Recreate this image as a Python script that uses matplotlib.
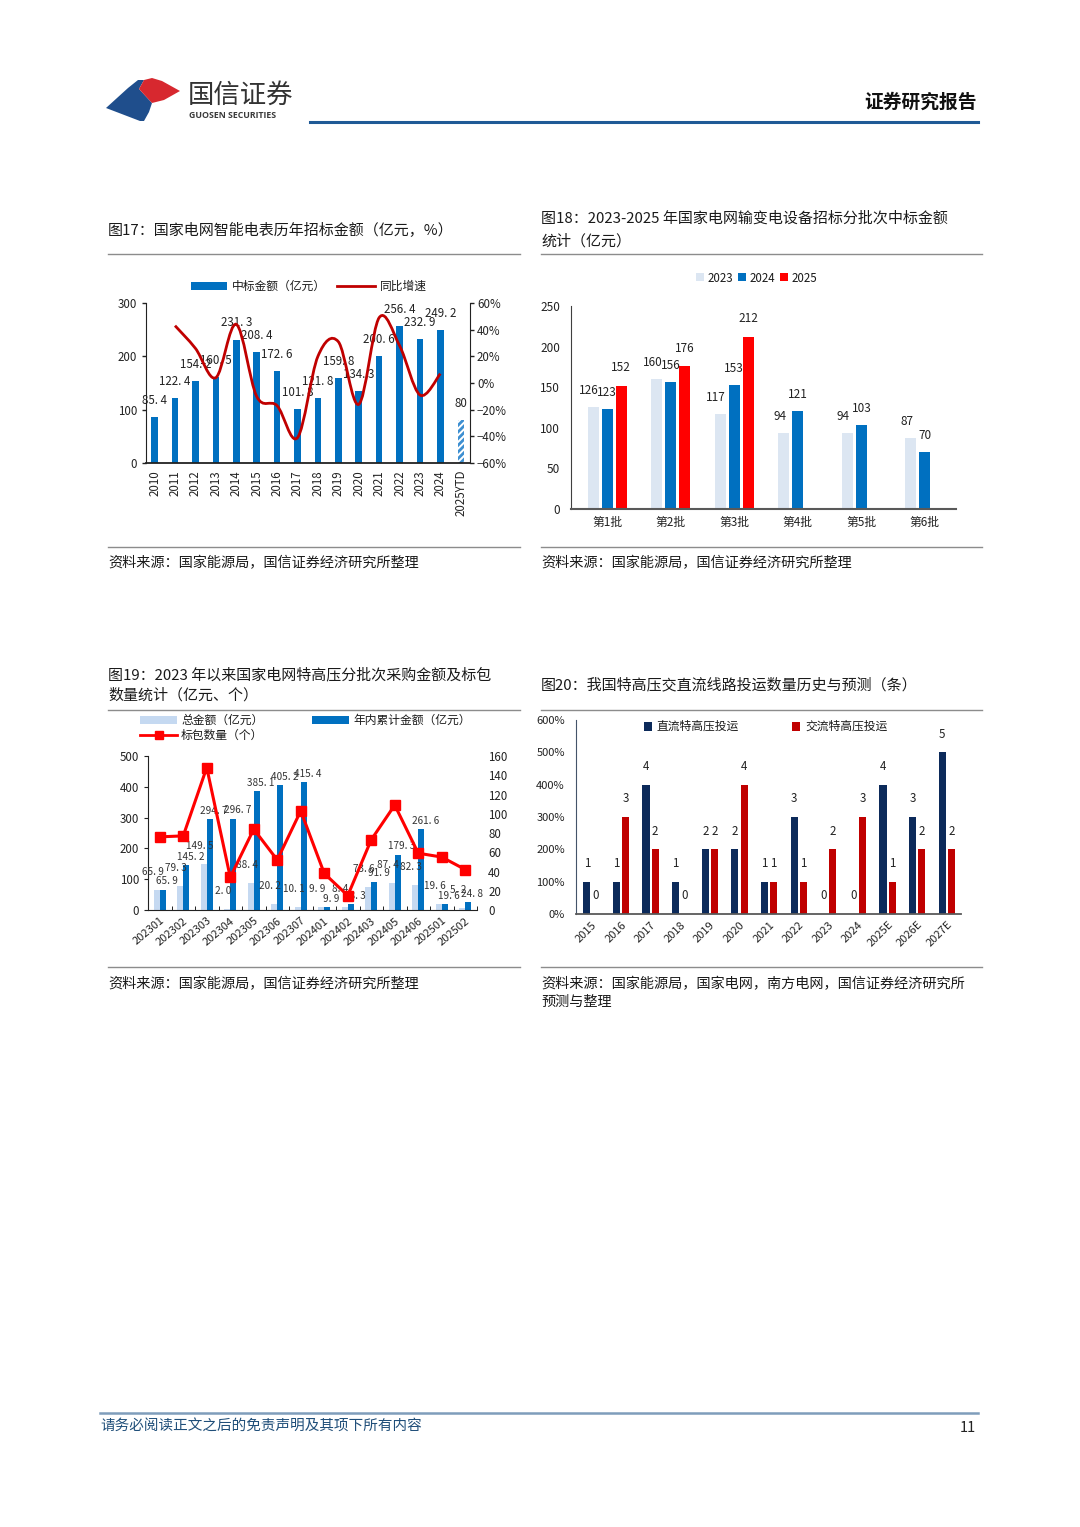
import matplotlib
matplotlib.use("Agg")
import matplotlib.pyplot as plt
from matplotlib.patches import Rectangle, Polygon, PathPatch
from matplotlib.lines import Line2D
from matplotlib.path import Path
import numpy as np

plt.rcParams['font.family'] = ['Noto Sans CJK SC', 'DejaVu Sans']
plt.rcParams['axes.unicode_minus'] = True
plt.rcParams['hatch.linewidth'] = 1.4

W, H = 1080, 1527

# ---------------- data ----------------
# Fig 17
years17 = ['2010', '2011', '2012', '2013', '2014', '2015', '2016', '2017', '2018',
           '2019', '2020', '2021', '2022', '2023', '2024', '2025YTD']
amount17 = [85.4, 122.4, 154.2, 160.5, 231.3, 208.4, 172.6, 101.8, 121.8,
            159.8, 134.3, 200.6, 256.4, 232.9, 249.2, 80]
growth17 = [0.43, 0.26, 0.04, 0.44, -0.10, -0.17, -0.41, 0.20, 0.31,
            -0.16, 0.49, 0.28, -0.09, 0.07]  # 2011-2024

# Fig 18
batches18 = ['第1批', '第2批', '第3批', '第4批', '第5批', '第6批']
y2023 = [126, 160, 117, 94, 94, 87]
y2024 = [123, 156, 153, 121, 103, 70]
y2025 = [152, 176, 212]

# Fig 19
periods19 = ['202301', '202302', '202303', '202304', '202305', '202306', '202307',
             '202401', '202402', '202403', '202405', '202406', '202501', '202502']
total19 = [65.9, 79.3, 149.5, 2.0, 88.4, 20.2, 10.1, 9.9, 8.4, 73.6, 87.4, 82.3, 19.6, 5.2]
cum19 = [65.9, 145.2, 294.7, 296.7, 385.1, 405.2, 415.4, 9.9, 18.3, 91.9, 179.3, 261.6, 19.6, 24.8]
packs19 = [76, 77, 148, 34, 84, 52, 103, 38, 15, 73, 109, 59, 55, 42]

# Fig 20
years20 = ['2015', '2016', '2017', '2018', '2019', '2020', '2021', '2022', '2023',
           '2024', '2025E', '2026E', '2027E']
dc20 = [1, 1, 4, 1, 2, 2, 1, 3, 0, 0, 4, 3, 5]
ac20 = [0, 3, 2, 0, 2, 4, 1, 1, 2, 3, 1, 2, 2]

# ---------------- helpers ----------------
fig = plt.figure(figsize=(W / 100, H / 100), dpi=100)


def P(x, y):
    return (x / W, 1 - y / H)


def add_ax(l, t, r, b):
    return fig.add_axes([l / W, 1 - b / H, (r - l) / W, (b - t) / H])


def ftext(x, y, s, **kw):
    fig.text(x / W, 1 - y / H, s, **kw)


def hline(x1, x2, y, color='#8c8c8c', lw=1.0):
    fig.add_artist(Line2D([x1 / W, x2 / W], [1 - y / H, 1 - y / H],
                          color=color, lw=lw, transform=fig.transFigure))


def frect(x, y, w, h, color, **kw):
    fig.add_artist(Rectangle((x / W, 1 - (y + h) / H), w / W, h / H,
                             facecolor=color, edgecolor='none',
                             transform=fig.transFigure, **kw))


TXT = '#1a1a1a'

# ---------------- header ----------------
blue_poly = [(106, 108), (128, 88), (138, 80), (144, 80), (139, 89), (152, 103),
             (149, 112), (144, 121), (140, 121)]
red_poly = [(144, 80), (152, 78), (162, 81), (180, 91), (164, 100), (152, 103), (139, 89)]
fig.add_artist(Polygon([P(*p) for p in blue_poly], closed=True, facecolor='#1f4e8c',
                       edgecolor='none', transform=fig.transFigure))
fig.add_artist(Polygon([P(*p) for p in red_poly], closed=True, facecolor='#d7282f',
                       edgecolor='none', transform=fig.transFigure))
ftext(188, 95, '国信证券', fontsize=19, color='#333333', va='center', ha='left',
      fontweight='medium')
ftext(189, 115, 'GUOSEN SECURITIES', fontsize=6.3, color='#3a3a3a', va='center',
      ha='left', fontweight='bold', family=['Open Sans', 'DejaVu Sans'])
ftext(977, 102, '证券研究报告', fontsize=13.5, color='#111111', va='center', ha='right',
      fontweight='bold')
hline(310, 978, 122, color='#1f5a96', lw=2.2)

# ---------------- footer ----------------
hline(100, 978, 1413, color='#7f9dbb', lw=1.8)
ftext(100, 1426, '请务必阅读正文之后的免责声明及其项下所有内容', fontsize=10.5,
      color='#1f4e79', va='center', ha='left', style='italic')
ftext(976, 1428, '11', fontsize=10.5, color='#222222', va='center', ha='right')

# ---------------- titles / separators ----------------
TS = 10.8
ftext(108, 230, '图17：国家电网智能电表历年招标金额（亿元，%）', fontsize=TS, color=TXT, va='center')
ftext(541, 219, '图18：2023-2025 年国家电网输变电设备招标分批次中标金额', fontsize=TS, color=TXT, va='center')
ftext(541, 241, '统计（亿元）', fontsize=TS, color=TXT, va='center')
ftext(108, 675, '图19：2023 年以来国家电网特高压分批次采购金额及标包', fontsize=TS, color=TXT, va='center')
ftext(108, 695, '数量统计（亿元、个）', fontsize=TS, color=TXT, va='center')
ftext(541, 685, '图20：我国特高压交直流线路投运数量历史与预测（条）', fontsize=TS, color=TXT, va='center')

for (x1, x2) in [(108, 520), (541, 982)]:
    hline(x1, x2, 254)
    hline(x1, x2, 547)
    hline(x1, x2, 710)
    hline(x1, x2, 967)

SS = 10.2
ftext(108, 563, '资料来源：国家能源局，国信证券经济研究所整理', fontsize=SS, color=TXT, va='center')
ftext(541, 563, '资料来源：国家能源局，国信证券经济研究所整理', fontsize=SS, color=TXT, va='center')
ftext(108, 984, '资料来源：国家能源局，国信证券经济研究所整理', fontsize=SS, color=TXT, va='center')
ftext(541, 984, '资料来源：国家能源局，国家电网，南方电网，国信证券经济研究所', fontsize=SS, color=TXT, va='center')
ftext(541, 1002, '预测与整理', fontsize=SS, color=TXT, va='center')


def spaced(v):
    return f'{v:.1f}'.replace('.', '. ')


# ---------------- Fig 17 ----------------
BLUE = '#0070c0'
ax = add_ax(146, 303, 470, 463)
x17 = np.arange(len(years17))
ax.bar(x17[:-1], amount17[:-1], width=0.32, color=BLUE, zorder=2)
ax.bar(x17[-1:], amount17[-1:], width=0.32, facecolor='#3d8fd1', edgecolor='white',
       hatch='/////', linewidth=0, zorder=2)
for i, v in enumerate(amount17):
    s = '80' if i == len(amount17) - 1 else spaced(v)
    ax.annotate(s, (x17[i], v), xytext=(0, 12), textcoords='offset points',
                ha='center', va='center', fontsize=8.3, color='#222222', zorder=5)
ax.set_xlim(-0.42, 15.45)
ax.set_ylim(0, 300)
ax.set_yticks([0, 100, 200, 300])
ax.set_xticks(x17)
ax.set_xticklabels(years17, rotation=90, fontsize=8.3, color='#222222')
ax.tick_params(axis='y', labelsize=8.3, colors='#222222', length=3, width=1)
ax.tick_params(axis='x', length=0, pad=5)
for s in ['top', 'right']:
    ax.spines[s].set_visible(False)
ax.spines['left'].set_color('#222222')
ax.spines['bottom'].set_color('#222222')
ax.spines['bottom'].set_linewidth(1.3)

ax2 = ax.twinx()
ax2.set_ylim(-0.6, 0.6)
ax2.set_yticks(np.linspace(-0.6, 0.6, 7))
ax2.set_yticklabels([f'{int(round(t * 100))}%'.replace('-', '−') for t in np.linspace(-0.6, 0.6, 7)])
ax2.tick_params(axis='y', labelsize=8.3, colors='#222222', length=3, width=1, pad=2)
for s in ['top', 'left', 'bottom']:
    ax2.spines[s].set_visible(False)
ax2.spines['right'].set_color('#222222')

# smooth curve (Catmull-Rom -> cubic Bezier) through growth points
gx = x17[1:15].astype(float)
gy = np.array(growth17, dtype=float)
pts = np.column_stack([gx, gy])
verts = [tuple(pts[0])]
codes = [Path.MOVETO]
n = len(pts)
for i in range(n - 1):
    p0 = pts[i - 1] if i > 0 else pts[i]
    p1 = pts[i]
    p2 = pts[i + 1]
    p3 = pts[i + 2] if i + 2 < n else pts[i + 1]
    c1 = p1 + (p2 - p0) / 6.0
    c2 = p2 - (p3 - p1) / 6.0
    verts += [tuple(c1), tuple(c2), tuple(p2)]
    codes += [Path.CURVE4] * 3
ax2.add_patch(PathPatch(Path(verts, codes), facecolor='none', edgecolor='#c00000',
                        lw=2.0, zorder=4))

# legend 17
frect(191, 282, 36, 8, BLUE)
ftext(232, 286, '中标金额（亿元）', fontsize=8.5, color=TXT, va='center')
fig.add_artist(Line2D([337 / W, 375 / W], [1 - 286 / H] * 2, color='#c00000', lw=2,
                      transform=fig.transFigure))
ftext(380, 286, '同比增速', fontsize=8.5, color=TXT, va='center')

# ---------------- Fig 18 ----------------
C23, C24, C25 = '#dce6f2', '#0070c0', '#ff0000'
ax = add_ax(571, 306, 956, 509)
x18 = np.arange(len(batches18))
step, bw = 0.22, 0.175
ax.bar(x18 - step, y2023, width=bw, color=C23, zorder=2)
ax.bar(x18, y2024, width=bw, color=C24, zorder=2)
ax.bar(x18[:len(y2025)] + step, y2025, width=bw, color=C25, zorder=2)
for i in range(len(batches18)):
    ax.annotate(str(y2023[i]), (x18[i] - step, y2023[i]), xytext=(-3, 12),
                textcoords='offset points', ha='center', va='center', fontsize=8.5, color='#222222')
    ax.annotate(str(y2024[i]), (x18[i], y2024[i]), xytext=(0, 12),
                textcoords='offset points', ha='center', va='center', fontsize=8.5, color='#222222')
for i, v in enumerate(y2025):
    ax.annotate(str(v), (x18[i] + step, v), xytext=(0, 13),
                textcoords='offset points', ha='center', va='center', fontsize=8.5, color='#222222')
ax.set_xlim(-0.57, 5.49)
ax.set_ylim(0, 250)
ax.set_yticks(range(0, 251, 50))
ax.set_xticks(x18)
ax.set_xticklabels(batches18, fontsize=8.5, color='#222222')
ax.tick_params(axis='y', labelsize=8.5, colors='#222222', length=0, pad=8)
ax.tick_params(axis='x', length=0, pad=5)
for s in ['top', 'right']:
    ax.spines[s].set_visible(False)
ax.spines['left'].set_color('#404040')
ax.spines['bottom'].set_color('#595959')
ax.spines['bottom'].set_linewidth(1.5)

# legend 18
frect(696, 273, 8, 8, C23)
ftext(708, 278, '2023', fontsize=8.3, color=TXT, va='center')
frect(738, 273, 8, 8, C24)
ftext(750, 278, '2024', fontsize=8.3, color=TXT, va='center')
frect(780, 273, 8, 8, C25)
ftext(792, 278, '2025', fontsize=8.3, color=TXT, va='center')

# ---------------- Fig 19 ----------------
LB, DB, RED = '#c5d9f1', '#0070c0', '#ff0000'
ax = add_ax(148, 756, 477, 910)
x19 = np.arange(len(periods19))
off19, bw19 = 0.13, 0.26
ax.bar(x19 - off19, total19, width=bw19, color=LB, zorder=2)
ax.bar(x19 + off19, cum19, width=bw19, color=DB, zorder=2)
for i in range(len(periods19)):
    ax.annotate(spaced(total19[i]), (x19[i] - off19, total19[i]), xytext=(-3, 13),
                textcoords='offset points', ha='center', va='center', fontsize=7.2,
                color='#333333', zorder=6)
    ax.annotate(spaced(cum19[i]), (x19[i] + off19, cum19[i]), xytext=(3, 6),
                textcoords='offset points', ha='center', va='center', fontsize=7.2,
                color='#333333', zorder=6)
ax.set_xlim(-0.4, 13.5)
ax.set_ylim(0, 500)
ax.set_yticks(range(0, 501, 100))
ax.set_xticks(x19)
ax.set_xticklabels(periods19, rotation=40, ha='right', rotation_mode='anchor',
                   fontsize=8, color='#222222')
ax.set_xticks(np.arange(-0.5, 13.6, 1), minor=True)
ax.tick_params(axis='x', which='major', length=0, pad=4)
ax.tick_params(axis='x', which='minor', length=3, direction='in')
ax.tick_params(axis='y', labelsize=8.3, colors='#222222', length=3)
for s in ['top', 'right']:
    ax.spines[s].set_visible(False)
ax.spines['left'].set_color('#222222')
ax.spines['bottom'].set_color('#222222')

ax2 = ax.twinx()
ax2.plot(x19, packs19, color=RED, lw=2.2, marker='s', markersize=7, zorder=5)
ax2.set_ylim(0, 160)
ax2.set_yticks(range(0, 161, 20))
ax2.tick_params(axis='y', labelsize=8.3, colors='#222222', length=0, pad=8)
for s in ['top', 'left', 'bottom', 'right']:
    ax2.spines[s].set_visible(False)
ax2.set_zorder(ax.get_zorder() + 1)
ax2.patch.set_visible(False)

# legend 19
frect(140, 716, 37, 8, LB)
ftext(181, 720, '总金额（亿元）', fontsize=8.5, color=TXT, va='center')
frect(312, 716, 37, 8, DB)
ftext(353, 720, '年内累计金额（亿元）', fontsize=8.5, color=TXT, va='center')
fig.add_artist(Line2D([140 / W, 158.5 / W, 177 / W], [1 - 735 / H] * 3, color=RED, lw=2,
                      marker='s', markersize=6, markevery=[1], transform=fig.transFigure))
ftext(181, 735, '标包数量（个）', fontsize=8.5, color=TXT, va='center')

# ---------------- Fig 20 ----------------
NAVY, DRED = '#0c2a5a', '#c00000'
ax = add_ax(576, 720, 961, 914)
x20 = np.arange(len(years20))
off20, bw20 = 0.155, 0.24
ax.bar(x20 - off20, dc20, width=bw20, color=NAVY, zorder=2)
ax.bar(x20 + off20, ac20, width=bw20, color=DRED, zorder=2)
for i in range(len(years20)):
    ax.annotate(str(dc20[i]), (x20[i] - off20, dc20[i]), xytext=(0, 13),
                textcoords='offset points', ha='center', va='center', fontsize=8.3, color='#222222')
    ax.annotate(str(ac20[i]), (x20[i] + off20, ac20[i]), xytext=(0, 13),
                textcoords='offset points', ha='center', va='center', fontsize=8.3, color='#222222')
ax.set_xlim(-0.52, 12.48)
ax.set_ylim(0, 6)
ax.set_yticks(range(0, 7))
ax.set_yticklabels([f'{t * 100}%' for t in range(0, 7)])
ax.set_xticks(x20)
ax.set_xticklabels(years20, rotation=45, ha='right', rotation_mode='anchor',
                   fontsize=8, color='#222222')
ax.tick_params(axis='x', length=0, pad=4)
ax.tick_params(axis='y', labelsize=8, colors='#222222', length=0, pad=8)
for s in ['top', 'right']:
    ax.spines[s].set_visible(False)
ax.spines['left'].set_color('#44546a')
ax.spines['bottom'].set_color('#595959')
ax.spines['bottom'].set_linewidth(1.3)

# legend 20
frect(644, 722, 8, 9, NAVY)
ftext(656, 726, '直流特高压投运', fontsize=8.5, color=TXT, va='center')
frect(792, 722, 8, 9, DRED)
ftext(805, 726, '交流特高压投运', fontsize=8.5, color=TXT, va='center')

fig.savefig('out.png', dpi=100, facecolor='white')
